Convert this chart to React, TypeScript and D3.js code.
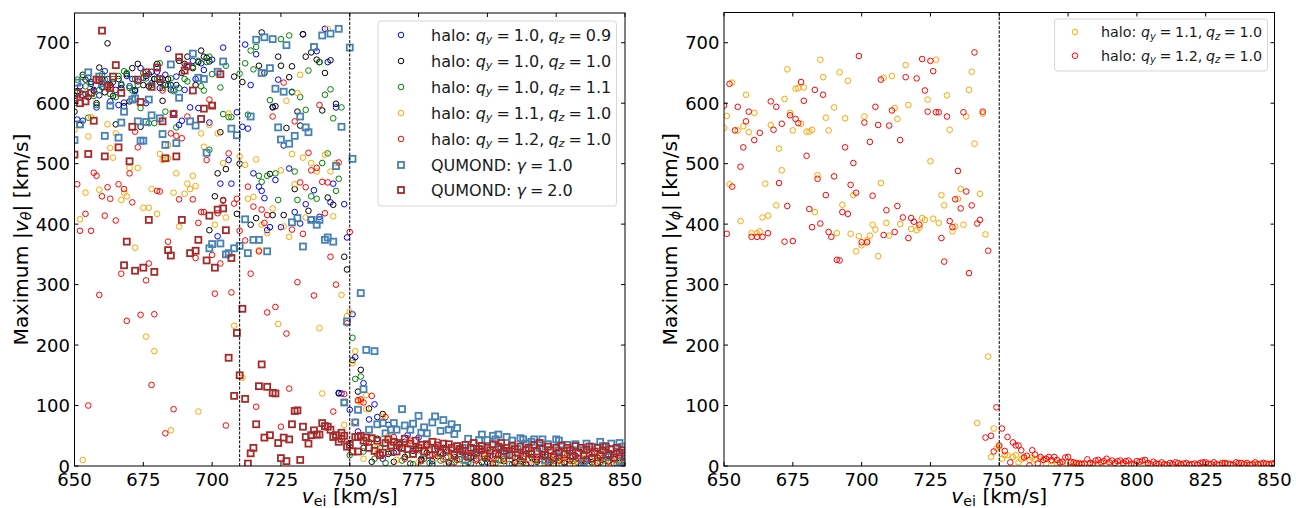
import React from "react";
import * as d3 from "d3";

type Pts = number[][];

const xTicks = [650, 675, 700, 725, 750, 775, 800, 825, 850];
const yTicks = [0, 100, 200, 300, 400, 500, 600, 700];
const leftRefLines = [710, 750];
const rightRefLines = [750];

const thetaQy10Qz09: Pts = [[650,612],[651,573],[652,628],[653,571],[654,615],[655,642],[656,632],[657,620],[658,593],[659,613],[660,627],[661,653],[662,640],[663,603],[664,635],[665,622],[666,597],[667,630],[668,601],[669,645],[670,628],[671,640],[672,620],[673,636],[674,658],[675,642],[676,600],[677,648],[678,633],[679,640],[680,652],[681,625],[682,640],[683,647],[684,690],[685,630],[686,584],[687,644],[688,564],[689,571],[690,622],[691,660],[692,593],[693,670],[694,640],[695,592],[696,666],[697,655],[699,568],[700,672],[702,380],[703,467],[704,692],[706,506],[707,467],[709,585],[711,561],[712,697],[713,558],[714,630],[715,484],[716,681],[717,462],[718,455],[719,443],[720,390],[721,395],[722,594],[723,473],[724,639],[725,395],[726,530],[728,492],[729,618],[730,420],[732,401],[733,714],[734,433],[736,408],[737,456],[738,686],[739,412],[741,723],[742,668],[743,436],[744,467],[745,593],[746,121],[747,120],[748,433],[749,378],[750,93],[751,251],[752,180],[753,57],[755,137],[757,77],[759,102],[760,81],[761,30],[762,12],[764,68],[766,22],[768,36],[770,40],[771,51],[773,25],[775,47],[776,12],[778,35],[780,8],[782,28],[784,20],[786,5],[788,15],[790,30],[792,18],[794,4],[796,12],[798,25],[800,6],[802,16],[804,10],[806,24],[808,3],[810,14],[812,8],[814,20],[816,5],[818,12],[820,18],[822,3],[824,9],[826,16],[828,6],[830,22],[832,11],[834,3],[836,8],[838,15],[840,5],[842,10],[844,18],[846,4],[848,9],[850,13]];

const thetaQy10Qz10: Pts = [[650,586],[651,620],[652,564],[653,647],[654,639],[655,610],[656,635],[657,622],[658,600],[659,659],[660,640],[661,618],[662,699],[663,630],[664,612],[665,565],[666,640],[667,625],[668,595],[669,648],[670,603],[671,658],[672,622],[673,665],[674,561],[675,630],[676,645],[677,628],[678,652],[679,640],[680,665],[681,635],[682,604],[683,630],[684,640],[685,622],[687,630],[688,670],[689,650],[690,665],[691,677],[693,658],[694,630],[695,668],[696,687],[697,677],[698,675],[699,669],[699,390],[701,446],[702,484],[703,552],[704,439],[705,491],[708,644],[709,417],[710,500],[711,635],[714,399],[716,410],[717,662],[718,717],[719,650],[721,483],[722,593],[722,415],[723,595],[724,677],[725,662],[726,415],[727,559],[728,643],[729,661],[730,458],[731,586],[732,563],[733,714],[734,677],[735,422],[736,684],[738,672],[739,668],[740,588],[741,650],[742,444],[743,671],[744,432],[745,599],[746,120],[748,346],[749,325],[750,38],[751,175],[753,123],[754,159],[755,30],[757,95],[758,7],[760,45],[762,86],[764,20],[766,7],[768,30],[770,15],[772,4],[774,28],[776,10],[778,22],[780,3],[782,16],[784,30],[786,7],[788,20],[790,11],[792,2],[794,14],[796,24],[798,6],[800,12],[802,3],[804,18],[806,8],[808,26],[810,5],[812,11],[814,2],[816,15],[818,7],[820,20],[822,10],[824,3],[826,14],[828,5],[830,9],[832,17],[834,2],[836,11],[838,6],[840,14],[842,3],[844,8],[846,12],[848,5],[850,9]];

const thetaQy10Qz11: Pts = [[650,600],[651,639],[652,618],[653,643],[654,628],[655,576],[656,635],[657,612],[658,597],[659,622],[660,648],[661,639],[662,630],[663,615],[664,640],[665,610],[666,645],[667,632],[668,653],[669,650],[670,625],[671,621],[672,640],[673,630],[674,592],[675,650],[676,641],[677,567],[678,630],[679,567],[680,640],[681,666],[682,625],[683,586],[684,630],[685,641],[686,620],[687,560],[688,625],[690,640],[691,636],[693,660],[695,670],[696,628],[697,621],[698,668],[699,677],[699,523],[700,648],[703,626],[704,582],[705,662],[706,577],[707,577],[710,649],[712,666],[713,581],[714,687],[715,656],[716,693],[717,480],[718,470],[720,480],[721,605],[723,484],[724,440],[725,706],[728,712],[729,619],[730,487],[731,440],[732,610],[734,589],[735,654],[736,446],[738,442],[739,668],[740,501],[741,614],[742,517],[743,623],[744,575],[745,455],[746,475],[747,593],[748,105],[750,18],[751,212],[752,144],[754,148],[755,24],[757,40],[759,12],[761,30],[763,5],[765,22],[767,38],[769,9],[771,18],[773,3],[775,26],[777,12],[779,5],[781,20],[783,9],[785,14],[787,3],[789,10],[791,22],[793,6],[795,16],[797,2],[799,12],[801,24],[803,5],[805,9],[807,17],[809,3],[811,13],[813,6],[815,21],[817,10],[819,3],[821,15],[823,7],[825,12],[827,3],[829,18],[831,8],[833,5],[835,11],[837,2],[839,14],[841,6],[843,9],[845,16],[847,3],[849,7]];

const thetaQy11Qz10: Pts = [[650,556],[652,408],[654,452],[655,545],[656,577],[653,10],[659,457],[662,565],[663,526],[664,510],[665,550],[667,440],[668,452],[669,446],[670,493],[672,361],[673,493],[675,427],[676,214],[677,427],[678,458],[679,190],[680,417],[681,516],[682,506],[684,509],[684,531],[685,59],[686,452],[687,484],[688,396],[690,450],[691,467],[692,458],[693,480],[694,463],[695,90],[696,550],[697,528],[699,564],[701,399],[702,550],[704,501],[705,411],[706,583],[708,232],[710,512],[711,146],[712,498],[713,442],[715,445],[716,507],[717,357],[718,399],[720,385],[722,426],[724,235],[725,489],[726,396],[727,604],[728,379],[729,516],[730,466],[731,617],[732,647],[733,510],[734,411],[736,501],[738,487],[739,228],[740,120],[741,515],[742,723],[743,487],[744,413],[745,501],[747,283],[748,68],[749,248],[750,255],[751,170],[752,190],[753,107],[754,106],[755,12],[756,117],[756,94],[758,45],[760,30],[762,82],[764,50],[767,10],[769,28],[771,40],[773,18],[775,6],[777,24],[779,33],[781,12],[783,20],[785,4],[787,15],[789,27],[791,8],[793,18],[795,3],[797,12],[799,22],[801,7],[803,15],[805,4],[807,10],[809,19],[811,6],[813,13],[815,3],[817,9],[819,16],[821,5],[823,11],[825,2],[827,8],[829,14],[831,4],[833,9],[835,13],[837,3],[839,7],[841,11],[843,2],[845,6],[847,10],[849,4]];

const thetaQy12Qz10: Pts = [[651,466],[652,389],[654,417],[655,100],[656,389],[657,485],[658,480],[659,283],[660,446],[661,414],[662,461],[663,442],[665,406],[666,466],[667,318],[668,458],[669,240],[670,484],[671,436],[672,553],[673,527],[674,250],[676,307],[677,335],[678,134],[679,251],[680,455],[681,454],[682,621],[683,54],[684,371],[685,550],[686,94],[686,582],[687,546],[688,441],[689,542],[691,578],[693,441],[694,344],[695,402],[696,420],[697,420],[698,506],[699,606],[700,597],[700,349],[701,285],[702,418],[703,335],[704,440],[705,67],[706,517],[707,287],[708,434],[709,442],[710,389],[712,373],[713,462],[714,318],[715,429],[716,98],[717,355],[718,424],[719,402],[720,415],[720,254],[722,578],[723,263],[725,65],[726,634],[727,219],[728,128],[729,391],[730,570],[731,304],[732,469],[733,384],[734,461],[735,518],[736,489],[737,282],[738,493],[739,597],[740,470],[741,418],[742,469],[743,346],[744,90],[745,300],[746,502],[748,119],[749,236],[750,387],[752,73],[753,109],[754,110],[755,105],[756,38],[758,116],[760,20],[763,81],[764,23],[766,48],[768,35],[770,12],[772,42],[774,26],[776,8],[778,32],[780,18],[782,40],[784,11],[786,24],[788,6],[790,30],[792,15],[794,22],[796,9],[798,28],[800,14],[802,5],[804,20],[806,12],[808,26],[810,7],[812,17],[814,4],[816,22],[818,10],[820,15],[822,6],[824,19],[826,9],[828,13],[830,3],[832,16],[834,8],[836,12],[838,20],[840,5],[842,14],[844,7],[846,11],[848,17],[850,6]];

const qumondGamma1: Pts = [[650,539],[651,634],[652,565],[655,651],[659,644],[660,633],[661,546],[663,596],[666,543],[667,568],[668,586],[671,606],[672,608],[673,570],[674,538],[675,538],[676,569],[677,606],[678,580],[681,575],[682,549],[683,531],[685,664],[686,623],[687,534],[688,609],[692,570],[693,682],[694,563],[695,642],[697,640],[698,518],[699,360],[700,367],[702,652],[703,368],[704,669],[705,350],[706,352],[707,558],[708,360],[709,547],[710,364],[712,408],[713,352],[714,578],[715,374],[716,705],[717,374],[718,650],[719,709],[720,355],[721,658],[722,706],[723,624],[724,560],[725,540],[726,619],[727,696],[728,533],[729,403],[730,546],[731,410],[732,578],[733,363],[734,560],[735,552],[736,407],[737,693],[738,399],[739,407],[740,712],[741,374],[742,378],[743,715],[744,371],[745,496],[746,723],[747,561],[748,105],[749,239],[750,692],[751,508],[752,72],[753,93],[754,286],[755,127],[756,192],[757,60],[759,190],[760,69],[762,71],[763,54],[765,60],[766,71],[767,60],[769,94],[770,67],[772,60],[773,70],[775,83],[776,55],[777,64],[778,54],[780,72],[781,82],[783,58],[784,76],[786,60],[787,69],[788,53],[789,63],[791,30],[792,10],[793,45],[795,28],[797,43],[798,52],[800,43],[802,50],[803,44],[804,52],[805,30],[807,48],[807,21],[809,42],[811,28],[812,46],[813,44],[814,37],[816,40],[817,44],[819,30],[820,44],[821,10],[822,36],[825,44],[826,42],[826,26],[829,35],[831,25],[832,36],[835,7],[835,26],[836,37],[838,32],[841,40],[842,33],[844,15],[845,37],[847,24],[848,38],[848,7],[849,32],[850,20]];

const qumondGamma2: Pts = [[650,515],[650,606],[651,617],[652,600],[653,614],[654,603],[655,516],[656,617],[657,571],[658,639],[659,638],[660,720],[661,512],[662,628],[663,625],[664,644],[665,663],[666,527],[667,617],[668,332],[669,371],[670,504],[671,561],[672,323],[673,639],[674,602],[675,328],[676,651],[677,407],[678,627],[679,321],[680,659],[681,640],[682,570],[683,509],[684,357],[685,348],[686,582],[687,512],[688,676],[689,407],[690,654],[691,661],[692,352],[693,621],[694,356],[695,374],[696,574],[697,591],[698,340],[699,414],[700,596],[701,328],[702,424],[703,648],[704,426],[705,390],[706,179],[707,344],[708,116],[709,220],[710,150],[711,260],[712,111],[713,4],[714,21],[715,30],[716,69],[717,132],[718,168],[719,47],[720,131],[721,51],[722,121],[723,120],[724,38],[725,13],[726,47],[727,8],[728,44],[729,69],[730,91],[731,92],[732,10],[733,65],[734,48],[735,37],[736,51],[737,59],[738,52],[739,52],[740,71],[741,66],[742,65],[743,60],[744,48],[745,51],[746,40],[747,45],[747,55],[748,50],[749,32],[750,35],[751,24],[752,48],[753,48],[753,24],[754,50],[755,42],[756,47],[757,30],[758,46],[759,25],[760,42],[761,18],[762,22],[763,38],[764,44],[765,34],[766,40],[767,24],[768,38],[769,30],[770,45],[771,28],[772,37],[773,20],[774,42],[775,30],[776,35],[777,24],[778,36],[779,18],[780,40],[781,28],[782,34],[783,22],[784,37],[785,26],[786,36],[787,30],[788,18],[789,33],[790,28],[791,25],[792,35],[793,16],[794,30],[795,38],[796,22],[797,28],[798,33],[799,17],[800,30],[801,26],[802,36],[803,20],[804,32],[805,38],[806,25],[807,30],[808,18],[809,34],[810,28],[811,22],[812,32],[813,16],[814,26],[815,30],[816,20],[817,35],[818,24],[819,38],[820,28],[821,18],[822,32],[823,26],[824,14],[825,30],[826,22],[827,34],[828,19],[829,30],[830,26],[831,16],[832,33],[833,22],[834,30],[835,18],[836,27],[837,32],[838,12],[839,24],[840,30],[841,18],[842,26],[843,32],[844,20],[845,28],[846,14],[847,30],[848,22],[849,26],[850,16]];

const phiQy11Qz10: Pts = [[650,559],[651,579],[652,466],[653,634],[655,555],[656,405],[657,562],[658,614],[659,552],[660,385],[661,584],[662,385],[663,388],[664,411],[665,467],[666,414],[667,564],[669,431],[670,525],[671,489],[672,607],[673,656],[674,584],[675,555],[676,624],[677,625],[678,566],[679,626],[680,553],[681,553],[682,556],[683,420],[684,481],[685,672],[686,643],[687,576],[688,555],[690,593],[691,385],[692,651],[693,432],[694,575],[695,637],[696,384],[697,448],[698,355],[699,380],[700,365],[701,578],[702,373],[703,381],[704,399],[705,391],[706,347],[707,468],[708,642],[709,402],[710,381],[711,645],[712,592],[713,574],[714,400],[716,663],[717,597],[718,392],[720,390],[721,394],[722,410],[723,407],[724,606],[725,504],[726,409],[727,672],[728,402],[729,448],[730,431],[731,613],[732,556],[733,388],[734,396],[735,442],[736,458],[737,399],[738,578],[739,622],[740,652],[741,533],[742,71],[743,450],[744,583],[745,383],[746,181],[747,15],[748,62],[749,29],[750,32],[751,12],[752,18],[753,18],[755,15],[756,18],[757,6],[758,11],[759,15],[761,10],[762,14],[763,11],[765,12],[767,4],[769,8],[771,4],[773,3],[776,5],[778,2],[780,5],[783,3],[786,4],[789,2],[792,4],[795,3],[798,2],[801,3],[804,2],[807,4],[810,2],[813,3],[816,1],[819,3],[822,2],[825,3],[828,1],[831,2],[834,3],[837,1],[840,2],[843,3],[846,1],[849,2]];

const phiQy12Qz10: Pts = [[650,596],[651,384],[652,632],[653,462],[654,555],[655,594],[656,495],[657,527],[658,570],[659,586],[660,379],[661,539],[662,379],[663,551],[664,379],[666,385],[667,603],[668,556],[669,594],[670,468],[671,566],[672,371],[673,430],[674,580],[675,372],[676,574],[677,567],[678,635],[679,604],[680,513],[681,425],[682,395],[683,622],[684,475],[685,401],[686,614],[687,448],[688,387],[689,379],[690,479],[691,341],[692,340],[693,420],[694,527],[695,417],[696,465],[697,501],[698,452],[699,678],[700,370],[701,568],[702,370],[703,536],[704,447],[705,594],[706,564],[707,639],[708,382],[709,423],[710,563],[711,588],[712,387],[713,430],[714,539],[715,411],[716,643],[717,377],[718,410],[719,404],[720,641],[721,399],[722,673],[723,621],[724,586],[725,670],[726,653],[727,585],[728,585],[729,377],[730,338],[731,578],[732,405],[733,395],[734,441],[735,488],[736,426],[737,585],[738,454],[739,319],[740,431],[741,684],[742,401],[743,407],[744,586],[745,47],[746,356],[747,50],[748,24],[749,97],[750,34],[751,62],[752,25],[753,48],[754,6],[755,39],[756,34],[757,34],[758,26],[759,14],[760,17],[761,1],[762,26],[763,19],[764,4],[765,15],[766,10],[767,12],[768,15],[769,10],[770,15],[771,10],[772,6],[773,7],[774,14],[775,15],[776,7],[777,6],[778,5],[779,4],[780,3],[781,4],[782,11],[783,5],[784,4],[785,9],[786,10],[787,6],[788,8],[789,12],[790,6],[791,9],[792,5],[793,8],[794,9],[795,5],[796,8],[797,9],[798,4],[799,3],[800,8],[801,7],[802,9],[803,10],[804,5],[805,3],[806,7],[807,4],[808,3],[809,6],[810,3],[811,2],[812,5],[813,3],[814,6],[815,5],[816,3],[817,4],[818,5],[819,2],[820,3],[821,4],[822,2],[823,5],[824,6],[825,6],[826,4],[827,3],[828,6],[829,3],[830,2],[831,5],[832,5],[833,4],[834,3],[835,2],[836,6],[837,5],[838,5],[839,3],[840,5],[841,2],[842,3],[843,6],[844,3],[845,4],[846,5],[847,4],[848,3],[849,4],[850,5]];

const colorQ09 = "#0000ff";
const colorQ10 = "#000000";
const colorQ11 = "#008000";
const colorOrange = "#ffa500";
const colorRed = "#ff0000";
const colorSteel = "#4682b4";
const colorBrown = "#a52a2a";

const FONT = "'DejaVu Sans', sans-serif";
const CIRCLE_R = 2.8;
const CIRCLE_W = 1;

const HaloLabel = ({ x, y, size, qy, qz }: any) => {
  const gap = size * 0.25;
  const sub = size * 0.18;
  return (
    <text x={x} y={y} fontSize={size} fontFamily={FONT} fill="#1a1a1a">
      <tspan>halo: </tspan>
      <tspan fontStyle="italic">q</tspan>
      <tspan fontStyle="italic" fontSize={size * 0.7} dy={sub}>y</tspan>
      <tspan dy={-sub} dx={gap}>=</tspan>
      <tspan dx={gap}>{qy},</tspan>
      <tspan dx={gap} fontStyle="italic">q</tspan>
      <tspan fontStyle="italic" fontSize={size * 0.7} dy={sub}>z</tspan>
      <tspan dy={-sub} dx={gap}>=</tspan>
      <tspan dx={gap}>{qz}</tspan>
    </text>
  );
};

const GammaLabel = ({ x, y, size, g }: any) => (
  <text x={x} y={y} fontSize={size} fontFamily={FONT} fill="#1a1a1a">
    <tspan>QUMOND: </tspan>
    <tspan fontStyle="italic">γ</tspan>
    <tspan dx={size * 0.25}>=</tspan>
    <tspan dx={size * 0.25}>{g}</tspan>
  </text>
);

function Panel({ left, right, top, bottom, symbol, series, refLines }: any) {
  const x = d3.scaleLinear().domain([650, 850]).range([left, right]);
  const y = d3.scaleLinear().domain([0, 750]).range([bottom, 12.5]);
  const cy = (top + bottom) / 2;
  return (
    <g>
      <defs>
        <clipPath id={`clip-${left}`}>
          <rect x={left} y={top} width={right - left} height={bottom - top} />
        </clipPath>
      </defs>
      <g clipPath={`url(#clip-${left})`}>
        {series.map((s: any, i: number) =>
          s.data.map((d: number[], j: number) =>
            s.square ? (
              <rect key={`${i}-${j}`} x={x(d[0]) - 3} y={y(d[1]) - 3} width={6} height={6} fill="none" stroke={s.color} strokeWidth={1.8} />
            ) : (
              <circle key={`${i}-${j}`} cx={x(d[0])} cy={y(d[1])} r={CIRCLE_R} fill="none" stroke={s.color} strokeWidth={CIRCLE_W} />
            )
          )
        )}
      </g>
      {refLines.map((v: number) => (
        <line key={v} x1={x(v)} x2={x(v)} y1={top} y2={bottom} stroke="#000" strokeWidth={1} strokeDasharray="3 1.5" />
      ))}
      <rect x={left} y={top} width={right - left} height={bottom - top} fill="none" stroke="#000" strokeWidth={1} />
      {xTicks.map((t) => (
        <g key={t}>
          <line x1={x(t)} x2={x(t)} y1={bottom} y2={bottom - 4} stroke="#000" />
          <line x1={x(t)} x2={x(t)} y1={top} y2={top + 4} stroke="#000" />
          <text x={x(t)} y={bottom + 19.5} textAnchor="middle" fontSize={18} fontFamily={FONT} fill="#000">{t}</text>
        </g>
      ))}
      {yTicks.map((t) => (
        <g key={t}>
          <line x1={left} x2={left + 4} y1={y(t)} y2={y(t)} stroke="#000" />
          <line x1={right} x2={right - 4} y1={y(t)} y2={y(t)} stroke="#000" />
          <text x={left - 4.5} y={y(t) + 6.5} textAnchor="end" fontSize={18} fontFamily={FONT} fill="#000">{t}</text>
        </g>
      ))}
      <text x={(left + right) / 2} y={503} textAnchor="middle" fontSize={20.3} fontFamily={FONT} fill="#000">
        <tspan fontStyle="italic">v</tspan>
        <tspan fontSize={14.2} dy={3}>ei</tspan>
        <tspan dy={-3}> [km/s]</tspan>
      </text>
      <text transform={`translate(${left - 47},${cy}) rotate(-90)`} textAnchor="middle" fontSize={20.3} fontFamily={FONT} fill="#000">
        <tspan>Maximum |</tspan>
        <tspan fontStyle="italic">v</tspan>
        <tspan fontStyle="italic" fontSize={14.2} dy={3}>{symbol}</tspan>
        <tspan dy={-3}>| [km/s]</tspan>
      </text>
    </g>
  );
}

const leftSeries = [
  { data: thetaQy10Qz09, color: colorQ09 },
  { data: thetaQy10Qz10, color: colorQ10 },
  { data: thetaQy10Qz11, color: colorQ11 },
  { data: thetaQy11Qz10, color: colorOrange },
  { data: thetaQy12Qz10, color: colorRed },
  { data: qumondGamma1, color: colorSteel, square: true },
  { data: qumondGamma2, color: colorBrown, square: true },
];
const rightSeries = [
  { data: phiQy11Qz10, color: colorOrange },
  { data: phiQy12Qz10, color: colorRed },
];

const LegendCircle = ({ x, y, color }: any) => <circle cx={x} cy={y} r={CIRCLE_R} fill="none" stroke={color} strokeWidth={CIRCLE_W} />;
const LegendSquare = ({ x, y, color }: any) => <rect x={x - 3} y={y - 3} width={6} height={6} fill="none" stroke={color} strokeWidth={1.8} />;

export default function App() {
  const leftRows = [
    { c: colorQ09, qy: "1.0", qz: "0.9", y: 35 },
    { c: colorQ10, qy: "1.0", qz: "1.0", y: 61 },
    { c: colorQ11, qy: "1.0", qz: "1.1", y: 87 },
    { c: colorOrange, qy: "1.1", qz: "1.0", y: 113 },
    { c: colorRed, qy: "1.2", qz: "1.0", y: 139 },
  ];
  return (
    <svg width={1296} height={508} style={{ position: "absolute", left: 0, top: 0, background: "#fff" }}>
      <Panel left={74.5} right={625} top={13} bottom={466} symbol="θ" series={leftSeries} refLines={leftRefLines} />
      <Panel left={724} right={1274.5} top={12.5} bottom={466} symbol="ϕ" series={rightSeries} refLines={rightRefLines} />

      <rect x={378} y={21} width={238.5} height={185} rx={3} fill="#fff" fillOpacity={0.8} stroke="#ccc" strokeOpacity={0.8} />
      {leftRows.map((r) => (
        <g key={r.y}>
          <LegendCircle x={401} y={r.y} color={r.c} />
          <HaloLabel x={431} y={r.y + 5.5} size={16} qy={r.qy} qz={r.qz} />
        </g>
      ))}
      <LegendSquare x={401} y={165} color={colorSteel} />
      <GammaLabel x={431} y={171} size={16} g="1.0" />
      <LegendSquare x={401} y={190} color={colorBrown} />
      <GammaLabel x={431} y={196} size={16} g="2.0" />

      <rect x={1054.5} y={19} width={213} height={52} rx={3} fill="#fff" fillOpacity={0.8} stroke="#ccc" strokeOpacity={0.8} />
      <LegendCircle x={1075} y={32} color={colorOrange} />
      <HaloLabel x={1101} y={37} size={14.3} qy="1.1" qz="1.0" />
      <LegendCircle x={1075} y={55.7} color={colorRed} />
      <HaloLabel x={1101} y={60.7} size={14.3} qy="1.2" qz="1.0" />
    </svg>
  );
}
